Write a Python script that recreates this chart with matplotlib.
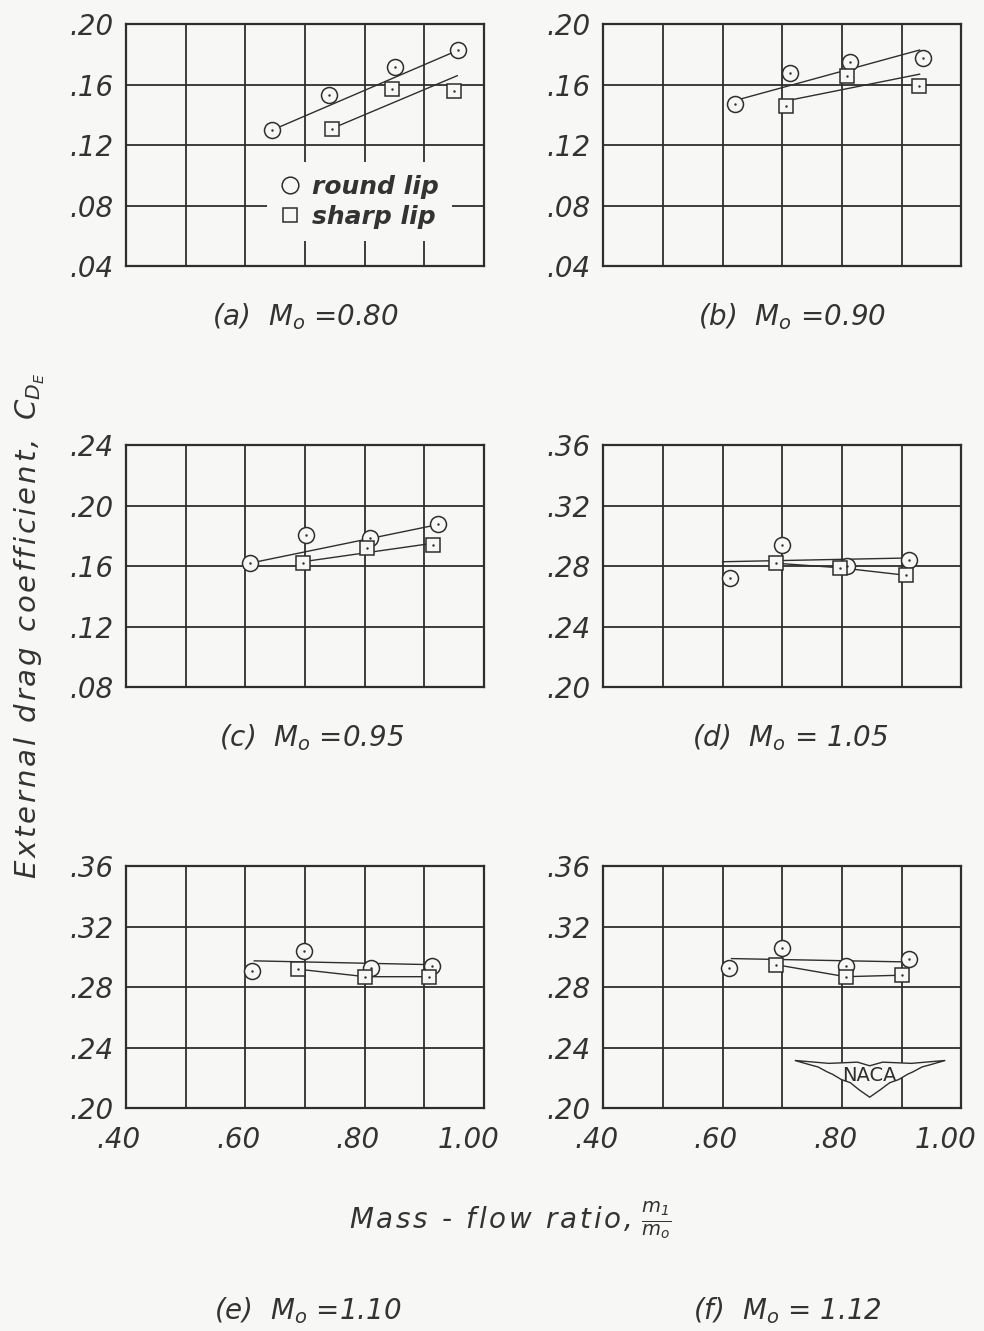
import matplotlib
matplotlib.use('Agg')
import matplotlib.pyplot as plt
import matplotlib.transforms as mtransforms
from matplotlib.lines import Line2D
from matplotlib.patches import Polygon

plt.rcParams['font.family'] = ['DejaVu Sans']
plt.rcParams['font.style'] = 'italic'
plt.rcParams['mathtext.fontset'] = 'custom'
plt.rcParams['mathtext.it'] = 'DejaVu Sans:italic'
plt.rcParams['mathtext.rm'] = 'DejaVu Sans:italic'
plt.rcParams['mathtext.sf'] = 'DejaVu Sans:italic'

INK = '#2e2e2e'
TXT = '#333333'
PAPER = '#f7f7f5'
HAIR = '\u200a'


def spaced(s):
    # slightly opened-up lettering, like the original stencil text
    return HAIR.join(s)


# ---- data ----
captions = ['(a)  $M_o$ =0.80', '(b)  $M_o$ =0.90', '(c)  $M_o$ =0.95',
            '(d)  $M_o$ = 1.05', '(e)  $M_o$ =1.10', '(f)  $M_o$ = 1.12']

x_grid = [0.40, 0.50, 0.60, 0.70, 0.80, 0.90, 1.00]
x_labels = ['.40', '', '.60', '', '.80', '', '1.00']

y_ticks_ab = [0.04, 0.08, 0.12, 0.16, 0.20]
y_ticks_c = [0.08, 0.12, 0.16, 0.20, 0.24]
y_ticks_def = [0.20, 0.24, 0.28, 0.32, 0.36]

# (a) M0 = 0.80
a_round_x = [0.645, 0.740, 0.850, 0.957]
a_round_y = [0.130, 0.153, 0.172, 0.183]
a_sharp_x = [0.745, 0.846, 0.950]
a_sharp_y = [0.131, 0.157, 0.156]
a_round_fair_x = [0.645, 0.957]
a_round_fair_y = [0.130, 0.183]
a_sharp_fair_x = [0.757, 0.955]
a_sharp_fair_y = [0.133, 0.166]

# (b) M0 = 0.90
b_round_x = [0.621, 0.713, 0.814, 0.936]
b_round_y = [0.147, 0.168, 0.175, 0.178]
b_sharp_x = [0.707, 0.808, 0.929]
b_sharp_y = [0.146, 0.166, 0.159]
b_round_fair_x = [0.625, 0.930]
b_round_fair_y = [0.150, 0.183]
b_sharp_fair_x = [0.715, 0.930]
b_sharp_fair_y = [0.150, 0.167]

# (c) M0 = 0.95
c_round_x = [0.607, 0.701, 0.808, 0.923]
c_round_y = [0.162, 0.181, 0.179, 0.188]
c_sharp_x = [0.696, 0.804, 0.915]
c_sharp_y = [0.162, 0.172, 0.174]
c_round_fair_x = [0.607, 0.915]
c_round_fair_y = [0.162, 0.187]
c_sharp_fair_x = [0.705, 0.910]
c_sharp_fair_y = [0.1635, 0.175]

# (d) M0 = 1.05
d_round_x = [0.612, 0.700, 0.808, 0.912]
d_round_y = [0.272, 0.294, 0.280, 0.284]
d_sharp_x = [0.690, 0.797, 0.908]
d_sharp_y = [0.282, 0.279, 0.274]
d_round_fair_x = [0.600, 0.912]
d_round_fair_y = [0.283, 0.2855]
d_sharp_fair_x = [0.690, 0.797, 0.908]
d_sharp_fair_y = [0.282, 0.279, 0.274]

# (e) M0 = 1.10
e_round_x = [0.611, 0.699, 0.811, 0.913]
e_round_y = [0.291, 0.304, 0.293, 0.294]
e_sharp_x = [0.688, 0.801, 0.908]
e_sharp_y = [0.292, 0.287, 0.287]
e_round_fair_x = [0.615, 0.908]
e_round_fair_y = [0.2975, 0.295]
e_sharp_fair_x = [0.688, 0.801, 0.908]
e_sharp_fair_y = [0.292, 0.287, 0.287]

# (f) M0 = 1.12
f_round_x = [0.610, 0.700, 0.806, 0.913]
f_round_y = [0.293, 0.306, 0.294, 0.299]
f_sharp_x = [0.689, 0.806, 0.900]
f_sharp_y = [0.295, 0.287, 0.288]
f_round_fair_x = [0.615, 0.905]
f_round_fair_y = [0.299, 0.2968]
f_sharp_fair_x = [0.689, 0.806, 0.900]
f_sharp_fair_y = [0.295, 0.287, 0.288]

panels = [
    (a_round_x, a_round_y, a_sharp_x, a_sharp_y, a_round_fair_x, a_round_fair_y, a_sharp_fair_x, a_sharp_fair_y, y_ticks_ab),
    (b_round_x, b_round_y, b_sharp_x, b_sharp_y, b_round_fair_x, b_round_fair_y, b_sharp_fair_x, b_sharp_fair_y, y_ticks_ab),
    (c_round_x, c_round_y, c_sharp_x, c_sharp_y, c_round_fair_x, c_round_fair_y, c_sharp_fair_x, c_sharp_fair_y, y_ticks_c),
    (d_round_x, d_round_y, d_sharp_x, d_sharp_y, d_round_fair_x, d_round_fair_y, d_sharp_fair_x, d_sharp_fair_y, y_ticks_def),
    (e_round_x, e_round_y, e_sharp_x, e_sharp_y, e_round_fair_x, e_round_fair_y, e_sharp_fair_x, e_sharp_fair_y, y_ticks_def),
    (f_round_x, f_round_y, f_sharp_x, f_sharp_y, f_round_fair_x, f_round_fair_y, f_sharp_fair_x, f_sharp_fair_y, y_ticks_def),
]

# ---- layout (figure fractions) ----
lefts = [0.128, 0.613]
bottoms = [0.8002, 0.4838, 0.1675]
width, height = 0.364, 0.1815
caption_xy = [(0.310, 0.7618), (0.805, 0.7618), (0.317, 0.4455),
              (0.803, 0.4455), (0.313, 0.015), (0.800, 0.015)]

fig = plt.figure(figsize=(9.84, 13.31), dpi=100, facecolor=PAPER)

axes = []
for i, (rx, ry, sx, sy, rfx, rfy, sfx, sfy, yt) in enumerate(panels):
    ax = fig.add_axes([lefts[i % 2], bottoms[i // 2], width, height])
    ax.set_facecolor(PAPER)
    ax.set_xlim(0.40, 1.00)
    ax.set_ylim(yt[0], yt[-1])
    ax.tick_params(length=0, labelsize=20, labelcolor=TXT)
    ax.tick_params(axis='y', pad=9)
    ax.tick_params(axis='x', pad=13)

    ax.set_xticks(x_grid)
    if i >= 4:
        ax.set_xticklabels(x_labels)
    else:
        ax.set_xticklabels([])
    ax.set_yticks(yt)
    ax.set_yticklabels([f'{v:.2f}'.lstrip('0') for v in yt])
    # the hand lettering sits a little left of the grid lines
    for lab, xv in zip(ax.get_xticklabels(), x_grid):
        dx = -16 if xv == 1.00 else -7
        lab.set_transform(lab.get_transform() +
                          mtransforms.ScaledTranslation(dx / 100, 0, fig.dpi_scale_trans))

    ax.grid(True, color=INK, linewidth=1.3)
    ax.set_axisbelow(True)
    for sp in ax.spines.values():
        sp.set_color(INK)
        sp.set_linewidth(1.6)

    # faired lines
    ax.plot(rfx, rfy, color=INK, linewidth=1.0, zorder=3)
    ax.plot(sfx, sfy, color=INK, linewidth=1.0, zorder=3)
    # data points
    ax.plot(rx, ry, linestyle='none', marker='o', markersize=11.5,
            markerfacecolor=PAPER, markeredgecolor=INK, markeredgewidth=1.1, zorder=4)
    ax.plot(sx, sy, linestyle='none', marker='s', markersize=10,
            markerfacecolor=PAPER, markeredgecolor=INK, markeredgewidth=1.1, zorder=4)
    ax.plot(rx + sx, ry + sy, linestyle='none', marker='.', markersize=1.5,
            color=INK, zorder=5)

    cx, cy = caption_xy[i]
    fig.text(cx, cy, captions[i], ha='center', va='center', fontsize=20, color=TXT)
    axes.append(ax)

# legend in panel (a)
handles = [Line2D([], [], linestyle='none', marker='o', markersize=12,
                  markerfacecolor=PAPER, markeredgecolor=INK, markeredgewidth=1.1),
           Line2D([], [], linestyle='none', marker='s', markersize=10.5,
                  markerfacecolor=PAPER, markeredgecolor=INK, markeredgewidth=1.1)]
leg = axes[0].legend(handles, ['round lip', 'sharp lip'], loc='lower left',
                     bbox_to_anchor=(0.36, 0.05), frameon=True, facecolor=PAPER,
                     edgecolor='none', framealpha=1, fancybox=False,
                     handlelength=0.8, handletextpad=0.5, labelspacing=0.25,
                     borderpad=0.5, prop={'size': 18, 'style': 'italic', 'weight': 'bold'})
for t in leg.get_texts():
    t.set_color(TXT)

# NACA wing emblem in panel (f)
axf = axes[5]
wing = [(0.535, 0.197), (0.58, 0.178), (0.60, 0.170), (0.625, 0.150), (0.64, 0.140),
        (0.665, 0.118), (0.69, 0.105), (0.715, 0.075), (0.744, 0.045),
        (0.773, 0.075), (0.80, 0.105), (0.825, 0.118), (0.85, 0.140), (0.865, 0.150),
        (0.89, 0.170), (0.91, 0.178), (0.955, 0.197),
        (0.86, 0.185), (0.78, 0.190), (0.744, 0.175), (0.71, 0.190), (0.63, 0.185)]
axf.add_patch(Polygon(wing, closed=True, transform=axf.transAxes, facecolor=PAPER,
                      edgecolor=INK, linewidth=1.0, zorder=6))
axf.text(0.744, 0.135, 'NACA', transform=axf.transAxes, ha='center', va='center',
         fontsize=14, fontstyle='normal', color=INK, zorder=7)

# shared axis titles
fig.text(0.030, 0.530, spaced('External drag coefficient,') + '  $C_{D_E}$', rotation=90,
         ha='center', va='center', fontsize=21, color=TXT)
fig.text(0.518, 0.083, spaced('Mass - flow ratio,') + r' $\frac{m_1}{m_o}$', ha='center',
         va='center', fontsize=20, color=TXT)

fig.savefig('out.png', dpi=100, facecolor=PAPER)
